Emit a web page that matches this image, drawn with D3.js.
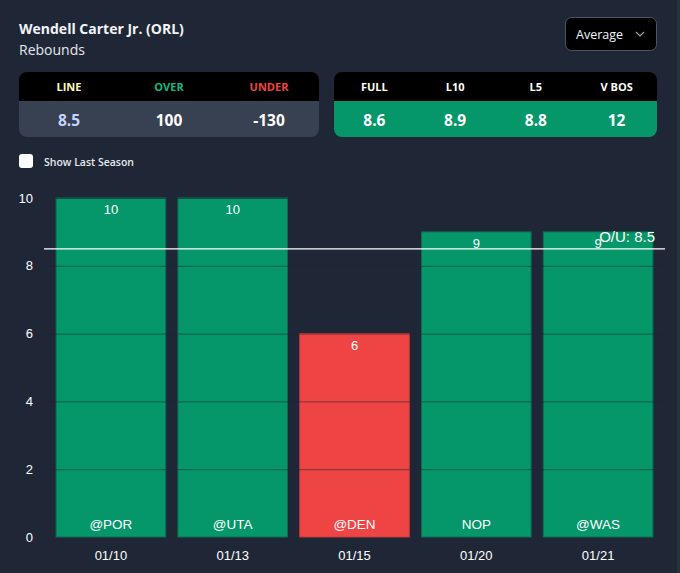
<!DOCTYPE html>
<html><head><meta charset="utf-8">
<script src="https://cdn.jsdelivr.net/npm/d3@7"></script>
<style>
html,body{margin:0;padding:0;background:#2a303c;overflow:hidden;}
svg{display:block;}
</style></head>
<body>
<svg id="c" width="680" height="573"></svg>
<script>
const player = "Wendell Carter Jr. (ORL)";
const stat = "Rebounds";
const lineHeaders = ["LINE","OVER","UNDER"];
const lineValues = ["8.5","100","-130"];
const avgHeaders = ["FULL","L10","L5","V BOS"];
const avgValues = ["8.6","8.9","8.8","12"];
const dates = ["01/10","01/13","01/15","01/20","01/21"];
const opponents = ["@POR","@UTA","@DEN","NOP","@WAS"];
const values = [10,10,6,9,9];
const yTicks = [0,2,4,6,8,10];
const ouLine = 8.5;

const svg = d3.select("#c");
const UI = "'Open Sans','Noto Sans',sans-serif";
const CH = "'Liberation Sans',Arial,sans-serif";

// card background
svg.append("path")
  .attr("d","M-20,-20 H665 A12,12 0 0 1 677,-8 V600 H-20 Z")
  .attr("fill","#1f2737");

// title
svg.append("text").attr("x",19).attr("y",34).text(player)
  .attr("font-family",UI).attr("font-weight",700).attr("font-size",14).attr("fill","#f3f4f6");
svg.append("text").attr("x",19).attr("y",55).text(stat)
  .attr("font-family",UI).attr("font-size",14).attr("fill","#e5e7eb");

// dropdown
svg.append("rect").attr("x",565.5).attr("y",17.5).attr("width",91).attr("height",33).attr("rx",6)
  .attr("fill","#000").attr("stroke","#4b5563");
svg.append("text").attr("x",576).attr("y",39).text("Average")
  .attr("font-family",UI).attr("font-size",12.5).attr("fill","#f3f4f6");
svg.append("path").attr("d","M636,32 l4,4 l4,-4").attr("fill","none").attr("stroke","#9ca3af").attr("stroke-width",1.2);

// tables
function table(x0, w, headers, vals, headColors, valColor, rowFill) {
  const g = svg.append("g");
  const clipId = "clip"+x0;
  svg.append("clipPath").attr("id",clipId).append("rect")
    .attr("x",x0).attr("y",72).attr("width",w).attr("height",65).attr("rx",8);
  const gg = g.attr("clip-path",`url(#${clipId})`);
  gg.append("rect").attr("x",x0).attr("y",72).attr("width",w).attr("height",29).attr("fill","#000");
  gg.append("rect").attr("x",x0).attr("y",101).attr("width",w).attr("height",36).attr("fill",rowFill);
  const cx = d3.scalePoint().domain(headers).range([x0, x0+w]).padding(0.5);
  headers.forEach((h,i)=>{
    gg.append("text").attr("x",cx(h)).attr("y",91).attr("text-anchor","middle").text(h)
      .attr("font-family",UI).attr("font-weight",700).attr("font-size",11).attr("fill",headColors[i]);
    gg.append("text").attr("x",cx(h)).attr("y",126).attr("text-anchor","middle").text(vals[i])
      .attr("font-family",UI).attr("font-weight",700).attr("font-size",15.5).attr("fill",valColor[i]);
  });
}
table(19, 300, lineHeaders, lineValues, ["#fef9c3","#10b981","#ef4444"], ["#c7d2fe","#ffffff","#ffffff"], "#374151");
table(334, 323, avgHeaders, avgValues, ["#fff","#fff","#fff","#fff"], ["#fff","#fff","#fff","#fff"], "#059669");

// checkbox
svg.append("rect").attr("x",19).attr("y",154).attr("width",14).attr("height",14).attr("rx",3).attr("fill","#fff");
svg.append("text").attr("x",44).attr("y",166).text("Show Last Season")
  .attr("font-family",UI).attr("font-weight",600).attr("font-size",10.5).attr("fill","#e5e7eb");

// chart
const x = d3.scaleBand().domain(dates).range([50,659]).paddingInner(0.1).paddingOuter(0.05);
const y = d3.scaleLinear().domain([0,10]).range([537,198]);

const bars = svg.append("g");
bars.selectAll("rect").data(values).join("rect")
  .attr("x",(d,i)=>x(dates[i])).attr("width",x.bandwidth())
  .attr("y",d=>y(d)).attr("height",d=>y(0)-y(d))
  .attr("fill",d=>d>ouLine?"#059669":"#ef4444")
  .attr("stroke",d=>d>ouLine?"#0b6e52":"#c43a3a").attr("stroke-width",1);

// grid lines over bars
svg.append("g").selectAll("line").data(yTicks.filter(t=>t>0)).join("line")
  .attr("x1",44).attr("x2",665).attr("y1",d=>y(d)+0.5).attr("y2",d=>y(d)+0.5)
  .attr("stroke","#1f2737").attr("stroke-opacity",0.55).attr("stroke-width",1);

// y axis
const yAxis = d3.axisLeft(y).tickValues(yTicks).tickSize(0).tickPadding(0);
const ya = svg.append("g").attr("transform","translate(33,0)").call(yAxis);
ya.select(".domain").remove();
ya.selectAll("text").attr("font-family",CH).attr("font-size",13).attr("fill","#fff");

// x axis
const xAxis = d3.axisBottom(x).tickSize(0).tickPadding(10);
const xa = svg.append("g").attr("transform","translate(0,541)").call(xAxis);
xa.select(".domain").remove();
xa.selectAll("text").attr("font-family",CH).attr("font-size",13).attr("fill","#fff");

// value labels
svg.append("g").selectAll("text").data(values).join("text")
  .attr("x",(d,i)=>x(dates[i])+x.bandwidth()/2).attr("y",d=>y(d)+16)
  .attr("text-anchor","middle").text(d=>d)
  .attr("font-family",CH).attr("font-size",13).attr("fill","#fff");
// opponent labels
svg.append("g").selectAll("text").data(opponents).join("text")
  .attr("x",(d,i)=>x(dates[i])+x.bandwidth()/2).attr("y",529)
  .attr("text-anchor","middle").text(d=>d)
  .attr("font-family",CH).attr("font-size",13.5).attr("fill","#fff");

// O/U line
svg.append("line").attr("x1",44).attr("x2",665).attr("y1",y(ouLine)).attr("y2",y(ouLine))
  .attr("stroke","#fff").attr("stroke-width",1.2);
svg.append("text").attr("x",655).attr("y",242).attr("text-anchor","end").text("O/U: " + ouLine)
  .attr("font-family",CH).attr("font-size",15).attr("fill","#fff");
</script>
</body></html>
